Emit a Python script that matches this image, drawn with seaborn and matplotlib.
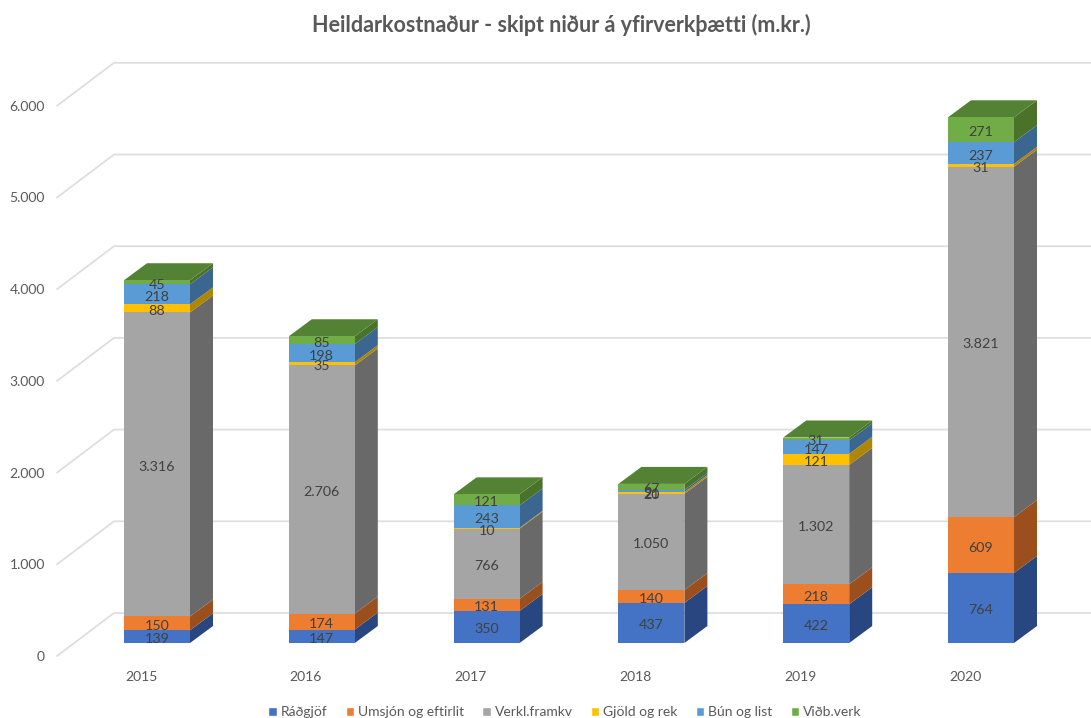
import numpy as np
import matplotlib
matplotlib.use("Agg")
import matplotlib.pyplot as plt
import seaborn as sns
from matplotlib.patches import Patch

years = ["2015", "2016", "2017", "2018", "2019", "2020"]
series = ["Ráðgjöf", "Umsjón og eftirlit", "Verkl.framkv", "Gjöld og rek", "Bún og list", "Viðb.verk"]

radgjof = [139, 147, 350, 437, 422, 764]
umsjon = [150, 174, 131, 140, 218, 609]
verkl = [3316, 2706, 766, 1050, 1302, 3821]
gjold = [88, 35, 10, 20, 121, 31]
bun = [218, 198, 243, 21, 147, 237]
vidb = [45, 85, 121, 67, 31, 271]

y_ticks = [0, 1000, 2000, 3000, 4000, 5000, 6000]
y_tick_labels = ["0", "1.000", "2.000", "3.000", "4.000", "5.000", "6.000"]

front_colors = ["#4472C4", "#ED7D31", "#A5A5A5", "#FFC000", "#5B9BD5", "#70AD47"]
side_colors = ["#28467F", "#9A4F1C", "#696969", "#B08600", "#3A6690", "#4A7229"]
top_color = "#548235"
grid_color = "#DEDEDE"
text_color = "#595959"
label_color = "#404040"

# pixel layout of the picture, everything below is scaled from this
W, H = 1091, 718
BAR_X0, BAR_STEP, BAR_W = 157, 164.8, 66
BASE_Y, PX_PER_UNIT = 643, 0.0917


def px_x(px):
    return (px - BAR_X0) / BAR_STEP


def px_y(px):
    return (BASE_Y - px) / PX_PER_UNIT


def fmt(v):
    return f"{v:,}".replace(",", ".")


def main():
    sns.set_theme(style="white")
    plt.rcParams["font.family"] = ["Lato", "DejaVu Sans"]

    fig = plt.figure(figsize=(W / 100, H / 100), dpi=100)
    ax = fig.add_axes([0, 0, 1, 1])

    width = BAR_W / BAR_STEP
    side_dx = 23 / BAR_STEP
    side_dy = 17 / PX_PER_UNIT

    # back wall gridlines with the slanted floor/wall part
    front_x, back_x, right_x = px_x(57), px_x(114), px_x(1091)
    front_off, back_off = -13 / PX_PER_UNIT, 30 / PX_PER_UNIT
    for v, lab in zip(y_ticks, y_tick_labels):
        ax.plot([front_x, back_x, right_x], [v + front_off, v + back_off, v + back_off],
                color=grid_color, lw=1.3, zorder=1, solid_joinstyle="miter")
        ax.text(px_x(45), v + front_off - 1 / PX_PER_UNIT, lab, ha="right", va="center",
                fontsize=10, color=text_color)

    bottom = np.zeros(len(years))
    all_values = [radgjof, umsjon, verkl, gjold, bun, vidb]
    label_drop = 2.5 / PX_PER_UNIT
    for name, vals, col, side in zip(series, all_values, front_colors, side_colors):
        vals = np.array(vals)
        sns.barplot(x=years, y=vals, bottom=bottom, color=col, saturation=1, width=width,
                    errorbar=None, order=years, ax=ax, zorder=3, linewidth=0)
        for i, (b, v) in enumerate(zip(bottom, vals)):
            r = i + width / 2
            ax.fill([r, r + side_dx, r + side_dx, r],
                    [b, b + side_dy, b + v + side_dy, b + v],
                    color=side, lw=0, zorder=2)
            ax.text(i, b + v / 2 - label_drop, fmt(v), ha="center", va="center", fontsize=10.3,
                    color=label_color, zorder=5)
        bottom = bottom + vals

    # top faces
    for i, t in enumerate(bottom):
        l, r = i - width / 2, i + width / 2
        ax.fill([l, r, r + side_dx, l + side_dx], [t, t, t + side_dy, t + side_dy],
                color=top_color, lw=0, zorder=2)

    for i, y in enumerate(years):
        ax.text(i - 16 / BAR_STEP, px_y(677), y, ha="center", va="center", fontsize=10,
                color=text_color)

    ax.set_xlim(px_x(0), px_x(W))
    ax.set_ylim(px_y(H), px_y(0))
    ax.set_axis_off()

    handles = [Patch(facecolor=c, label=s) for c, s in zip(front_colors, series)]
    fig.legend(handles=handles, loc="center", bbox_to_anchor=(565 / W, 1 - 712 / H), ncol=6,
               frameon=False, fontsize=10, labelcolor=text_color, handlelength=0.6,
               handleheight=0.6, handletextpad=0.3, columnspacing=1.3)

    fig.text(561 / W, 1 - 25 / H, "Heildarkostnaður - skipt niður á yfirverkþætti (m.kr.)",
             ha="center", va="center", fontsize=15.5, fontweight="bold", color=text_color)

    fig.savefig("out.png", dpi=100)
    plt.close(fig)


if __name__ == "__main__":
    main()
